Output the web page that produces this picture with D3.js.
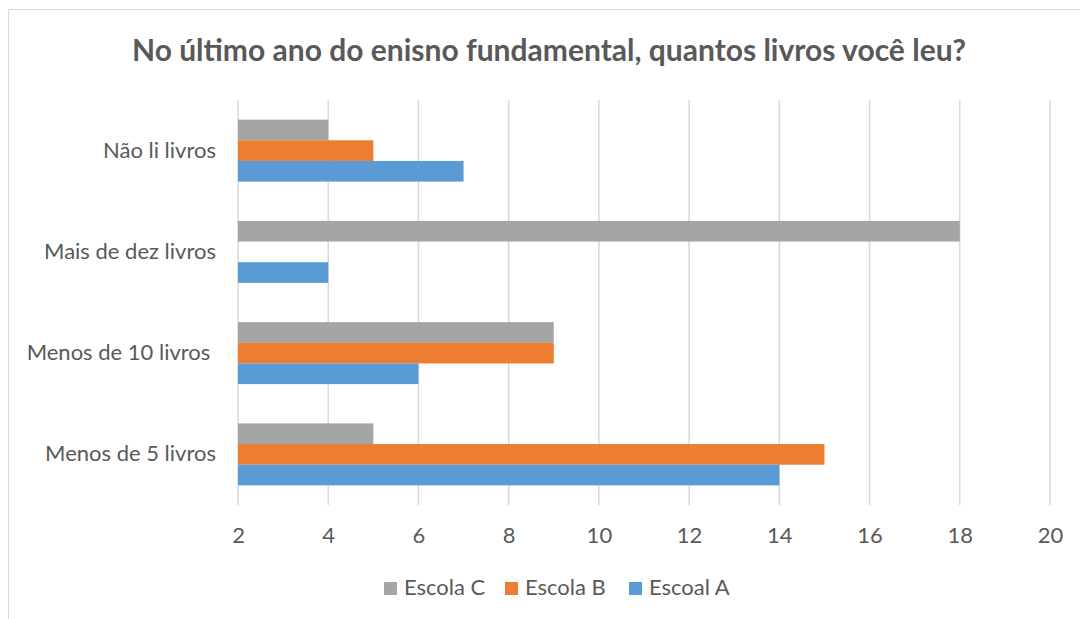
<!DOCTYPE html>
<html>
<head>
<meta charset="utf-8">
<script src="https://cdn.jsdelivr.net/npm/d3@7"></script>
<style>
  body { margin: 0; background: #fff; }
  text { font-family: Lato, "Open Sans", sans-serif; fill: #595959; white-space: pre; }
</style>
</head>
<body>
<svg id="chart" width="1080" height="619"></svg>
<script>
// categories, top to bottom
const categories = ["Não li livros", "Mais de dez livros", "Menos de 10 livros ", "Menos de 5 livros"];
// series, drawn top to bottom inside each group
const seriesNames = ["Escola C", "Escola B", "Escoal A"];
const escolaC = [4, 18, 9, 5];
const escolaB = [5, null, 9, 15];
const escolaA = [7, 4, 6, 14];
const colors = ["#a5a5a5", "#ed7d31", "#5b9bd5"];
const xTicks = [2, 4, 6, 8, 10, 12, 14, 16, 18, 20];

const seriesValues = [escolaC, escolaB, escolaA];

const svg = d3.select('#chart');

// chart frame
svg.append('rect')
    .attr('x', 8.5).attr('y', 9.5)
    .attr('width', 1090).attr('height', 620)
    .attr('fill', 'none')
    .attr('stroke', '#d9d9d9')
    .attr('stroke-width', 1);

svg.append('text')
    .attr('x', 549).attr('y', 53)
    .attr('text-anchor', 'middle')
    .attr('dominant-baseline', 'middle')
    .style('font-size', '30px')
    .style('font-weight', 'bold')
    .text('No último ano do enisno fundamental, quantos livros você leu?');

const x = d3.scaleLinear().domain([2, 20]).range([238, 1050]);
const y = d3.scaleBand().domain(categories).range([100, 505])
    .paddingInner(0.388).paddingOuter(0.194);
const ySub = d3.scaleBand().domain(seriesNames).range([0, y.bandwidth()]);

// gridlines
svg.append('g').selectAll('line')
    .data(xTicks)
    .enter().append('line')
    .attr('x1', d => x(d)).attr('x2', d => x(d))
    .attr('y1', 100).attr('y2', 505)
    .attr('stroke', '#d9d9d9')
    .attr('stroke-width', 1.5);

// bars
seriesNames.forEach((s, i) => {
    const rows = categories.map((c, j) => ({ cat: c, value: seriesValues[i][j] }))
        .filter(d => d.value != null);
    svg.append('g').selectAll('rect')
        .data(rows)
        .enter().append('rect')
        .attr('x', x(2))
        .attr('y', d => y(d.cat) + ySub(s))
        .attr('width', d => x(d.value) - x(2))
        .attr('height', ySub.bandwidth())
        .attr('fill', colors[i]);
});

// x axis labels
const xAxis = svg.append('g')
    .attr('transform', 'translate(0,505)')
    .call(d3.axisBottom(x).tickValues(xTicks).tickSize(0).tickPadding(22));
xAxis.select('.domain').remove();
xAxis.selectAll('text')
    .style('font-size', '22px')
    .style('font-family', 'Lato, "Open Sans", sans-serif')
    .attr('fill', '#595959');

// y axis labels
const yAxis = svg.append('g')
    .attr('transform', 'translate(238,0)')
    .call(d3.axisLeft(y).tickSize(0).tickPadding(22));
yAxis.select('.domain').remove();
yAxis.selectAll('text')
    .style('font-size', '22px')
    .style('font-family', 'Lato, "Open Sans", sans-serif')
    .attr('fill', '#595959');

// legend
const legendX = [384, 505, 629];
const legend = svg.append('g').selectAll('g')
    .data(seriesNames)
    .enter().append('g')
    .attr('transform', (d, i) => `translate(${legendX[i]},589)`);
legend.append('rect')
    .attr('x', 0).attr('y', -7)
    .attr('width', 13).attr('height', 13)
    .attr('fill', (d, i) => colors[i]);
legend.append('text')
    .attr('x', 20).attr('y', 0)
    .attr('dominant-baseline', 'middle')
    .style('font-size', '22px')
    .text(d => d);
</script>
</body>
</html>
